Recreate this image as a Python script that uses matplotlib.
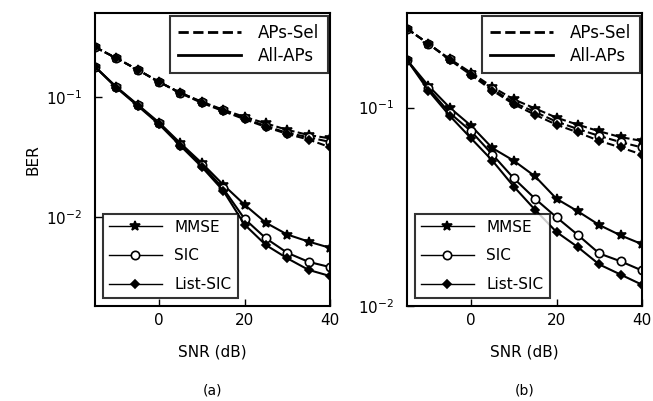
import matplotlib
matplotlib.use("Agg")
import matplotlib.pyplot as plt
from matplotlib.lines import Line2D

snr = [-15, -10, -5, 0, 5, 10, 15, 20, 25, 30, 35, 40]

# Panel (a)
a_sel_mmse = [0.26, 0.21, 0.168, 0.133, 0.108, 0.091, 0.078, 0.068, 0.060, 0.053, 0.048, 0.045]
a_sel_sic  = [0.26, 0.21, 0.168, 0.133, 0.108, 0.090, 0.077, 0.066, 0.057, 0.050, 0.046, 0.042]
a_sel_list = [0.26, 0.21, 0.168, 0.133, 0.107, 0.089, 0.076, 0.065, 0.056, 0.049, 0.044, 0.038]
a_all_mmse = [0.178, 0.121, 0.086, 0.061, 0.041, 0.028, 0.0185, 0.0126, 0.0089, 0.0071, 0.0062, 0.0055]
a_all_sic  = [0.178, 0.120, 0.085, 0.060, 0.040, 0.027, 0.0172, 0.0096, 0.0066, 0.0050, 0.0042, 0.0038]
a_all_list = [0.178, 0.119, 0.084, 0.059, 0.039, 0.026, 0.0165, 0.0086, 0.0058, 0.0045, 0.0036, 0.0032]

# Panel (b)
b_sel_mmse = [0.25, 0.21, 0.176, 0.150, 0.127, 0.110, 0.099, 0.089, 0.082, 0.076, 0.071, 0.068]
b_sel_sic  = [0.25, 0.21, 0.175, 0.148, 0.124, 0.106, 0.095, 0.085, 0.078, 0.072, 0.067, 0.063]
b_sel_list = [0.25, 0.21, 0.174, 0.146, 0.122, 0.104, 0.092, 0.082, 0.075, 0.068, 0.063, 0.058]
b_all_mmse = [0.174, 0.129, 0.100, 0.081, 0.0625, 0.054, 0.045, 0.0347, 0.030, 0.0256, 0.0227, 0.0205]
b_all_sic  = [0.174, 0.125, 0.094, 0.076, 0.058, 0.044, 0.0347, 0.028, 0.0228, 0.0184, 0.0168, 0.0151]
b_all_list = [0.174, 0.122, 0.091, 0.070, 0.054, 0.040, 0.0305, 0.0236, 0.0198, 0.0162, 0.0144, 0.0128]

algo_labels = ["MMSE", "SIC", "List-SIC"]
mode_labels = ["APs-Sel", "All-APs"]
x_ticks = [0, 20, 40]

markers = {"MMSE": dict(marker="*", mfc="black", ms=7),
           "SIC": dict(marker="o", mfc="white", ms=6),
           "List-SIC": dict(marker="D", mfc="black", ms=4.5)}

fig = plt.figure(figsize=(6.53, 4.01), dpi=100)
W, H = 653, 401
def rect(l, t, r, b):
    return [l / W, 1 - b / H, (r - l) / W, (b - t) / H]

panels = [
    (rect(95, 13, 330, 306), (0.0018, 0.5),
     [a_sel_mmse, a_sel_sic, a_sel_list], [a_all_mmse, a_all_sic, a_all_list], "(a)"),
    (rect(407, 13, 642, 306), (0.01, 0.3),
     [b_sel_mmse, b_sel_sic, b_sel_list], [b_all_mmse, b_all_sic, b_all_list], "(b)"),
]

for i, (r, ylim, sel, allp, cap) in enumerate(panels):
    ax = fig.add_axes(r)
    ax.set_yscale("log")
    for name, ys in zip(algo_labels, sel):
        ax.plot(snr, ys, color="black", ls="--", lw=1.5, mec="black", mew=1.2, **markers[name])
    for name, ys in zip(algo_labels, allp):
        ax.plot(snr, ys, color="black", ls="-", lw=1.5, mec="black", mew=1.2, **markers[name])
    ax.set_xlim(-15, 40)
    ax.set_ylim(*ylim)
    ax.set_xticks(x_ticks)
    ax.set_yticks([0.1, 0.01])
    ax.set_yticklabels([r"$10^{-1}$", r"$10^{-2}$"])
    ax.minorticks_off()
    ax.tick_params(direction="in", length=5, width=1, labelsize=11, pad=5)
    ax.tick_params(axis="y", pad=9)
    ax.set_xlabel("SNR (dB)", fontsize=11, labelpad=12)
    if i == 0:
        ax.set_ylabel("BER", fontsize=11, labelpad=4)
    for s in ax.spines.values():
        s.set_linewidth(1.5)
    h1 = [Line2D([], [], color="black", ls="--", lw=2),
          Line2D([], [], color="black", ls="-", lw=2)]
    leg1 = ax.legend(h1, mode_labels, loc="upper right", fontsize=12, frameon=True,
                     fancybox=False, edgecolor="black", borderaxespad=0.15,
                     handlelength=3.8, borderpad=0.5, labelspacing=0.3,
                     handletextpad=1.0)
    leg1.get_frame().set_linewidth(1.5)
    ax.add_artist(leg1)
    h2 = [Line2D([], [], color="black", ls="-", lw=1, mec="black", mew=1.2, **markers[n])
          for n in algo_labels]
    leg2 = ax.legend(h2, algo_labels, loc="lower left", fontsize=11, frameon=True,
                     fancybox=False, edgecolor="black", borderaxespad=0.5,
                     handlelength=3.5, labelspacing=0.9)
    leg2.get_frame().set_linewidth(1.5)
    cx = (r[0] + r[2] / 2)
    fig.text(cx, 1 - 391 / H, cap, ha="center", va="center", fontsize=10)

fig.savefig("out.png", dpi=100)
